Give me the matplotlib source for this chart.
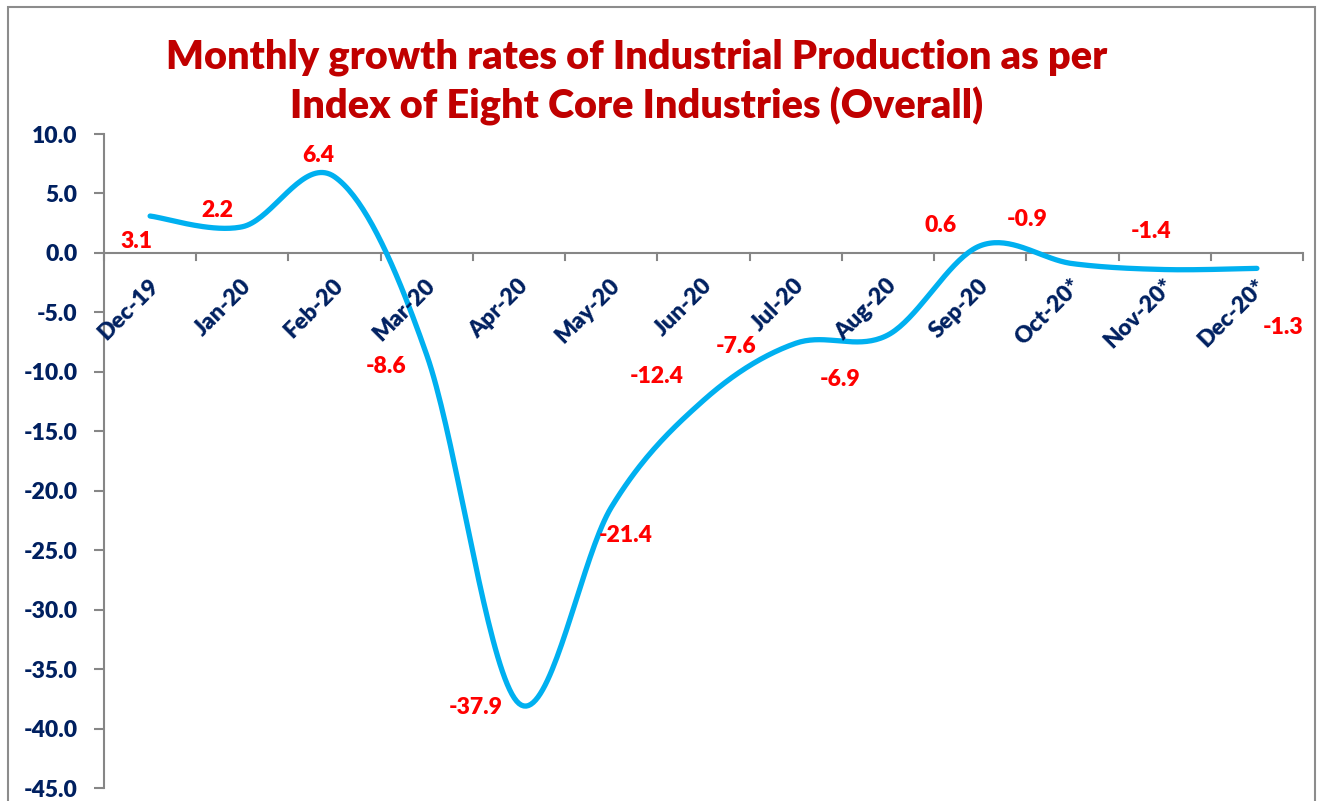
import matplotlib
matplotlib.use("Agg")
import matplotlib.pyplot as plt
import matplotlib.patches as mpatches
import numpy as np

# ---------------------------------------------------------------------------
# Data
# ---------------------------------------------------------------------------
MONTHS = ["Dec-19", "Jan-20", "Feb-20", "Mar-20", "Apr-20", "May-20", "Jun-20",
          "Jul-20", "Aug-20", "Sep-20", "Oct-20*", "Nov-20*", "Dec-20*"]
GROWTH = [3.1, 2.2, 6.4, -8.6, -37.9, -21.4, -12.4, -7.6, -6.9, 0.6, -0.9, -1.4, -1.3]
Y_TICKS = [10, 5, 0, -5, -10, -15, -20, -25, -30, -35, -40, -45]

TITLE = ("Monthly growth rates of Industrial Production as per\n"
         "Index of Eight Core Industries (Overall)")

# label offsets (pixels) relative to each point
LABEL_OFFSETS = [(-14, -25), (-25, 16), (-16, 21), (-41, -11), (-43, -4), (14, -28),
                 (-47, 24), (-60, -3), (-48, -45), (-40, 20), (-45, 44), (-14, 38),
                 (26, -59)]

# ---------------------------------------------------------------------------
# Style
# ---------------------------------------------------------------------------
LINE = "#00B0F0"
NAVY = "#002060"
RED = "#FF0000"
DARKRED = "#C00000"
AXIS = "#868686"
FONT = "Lato"
WEIGHT = "heavy"


def smooth(xs, ys, n=40):
    """Excel-like smoothed line: cubic Bezier through points."""
    pts = np.column_stack([xs, ys]).astype(float)
    m = len(pts)
    out = []
    for i in range(m - 1):
        p0 = pts[max(i - 1, 0)]
        p1 = pts[i]
        p2 = pts[i + 1]
        p3 = pts[min(i + 2, m - 1)]
        c1 = p1 + (p2 - p0) / 6.0
        c2 = p2 - (p3 - p1) / 6.0
        t = np.linspace(0, 1, n)[:, None]
        seg = ((1 - t) ** 3) * p1 + 3 * ((1 - t) ** 2) * t * c1 \
            + 3 * (1 - t) * t ** 2 * c2 + t ** 3 * p2
        out.append(seg if i == 0 else seg[1:])
    seg = np.vstack(out)
    return seg[:, 0], seg[:, 1]


fig = plt.figure(figsize=(13.22, 8.01), dpi=100)
fig.patch.set_facecolor("white")

# outer chart frame
fig.add_artist(mpatches.Rectangle((8 / 1322, -0.05), (1315 - 8) / 1322, 1.05 - 7 / 801,
                                  transform=fig.transFigure, fill=False,
                                  edgecolor="#8C8C8C", linewidth=1.5))

ax = fig.add_axes([104 / 1322, 1 - 788 / 801, (1303 - 104) / 1322, (788 - 134) / 801])

x = np.arange(len(MONTHS)) + 0.5
sx, sy = smooth(x, GROWTH)
ax.plot(sx, sy, color=LINE, linewidth=3.8, solid_capstyle="round", zorder=3)

for xi, v, (dx, dy) in zip(x, GROWTH, LABEL_OFFSETS):
    ax.annotate(f"{v:.1f}", (xi, v), xytext=(dx, dy), textcoords="offset pixels",
                ha="center", va="center", color=RED, fontsize=16.5,
                fontweight=WEIGHT, fontfamily=FONT)

ax.set_xlim(0, len(MONTHS))
ax.set_ylim(-45, 10)

ax.set_yticks(Y_TICKS)
ax.set_yticklabels([f"{t:.1f}" for t in Y_TICKS], color=NAVY, fontsize=16.5,
                   fontweight=WEIGHT, fontfamily=FONT)
ax.tick_params(axis="y", direction="out", length=7, width=1.5, color=AXIS, pad=12)

# category axis at zero
ax.set_xticks([])
ax.axhline(0, color=AXIS, linewidth=1.5, zorder=2)
for b in range(len(MONTHS) + 1):
    ax.plot([b, b], [0, -0.6], color=AXIS, linewidth=1.5, zorder=2, clip_on=False)
for xi, m in zip(x, MONTHS):
    ax.annotate(m, (xi, 0), xytext=(-2, -22), textcoords="offset pixels",
                ha="right", va="top", rotation=45, rotation_mode="anchor",
                color=NAVY, fontsize=16.5, fontweight=WEIGHT, fontfamily=FONT)

for s in ["top", "right", "bottom"]:
    ax.spines[s].set_visible(False)
ax.spines["left"].set_color(AXIS)
ax.spines["left"].set_linewidth(1.5)

fig.text(637 / 1322, 1 - 82 / 801, TITLE, ha="center", va="center",
         color=DARKRED, fontsize=28.5, fontweight=WEIGHT, fontfamily=FONT,
         linespacing=1.35)

fig.savefig("out.png", dpi=100, facecolor="white")
